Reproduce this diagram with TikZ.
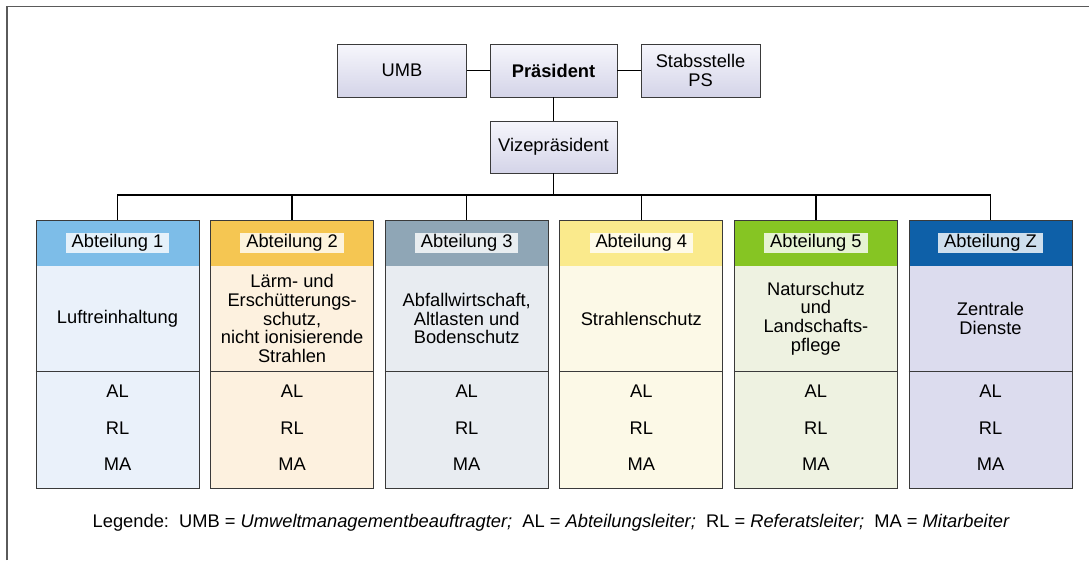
\documentclass[tikz,border=0pt]{standalone}
\usepackage{fontspec}
\setmainfont{Liberation Sans}
\definecolor{frameC}{HTML}{5A5A5A}
\definecolor{boxline}{HTML}{3A3A3A}
\definecolor{topA}{HTML}{F6F6FC}
\definecolor{topB}{HTML}{D4D4E8}
\definecolor{hA}{HTML}{7DBDE8}\definecolor{bA}{HTML}{EAF1FA}
\definecolor{hB}{HTML}{F5C652}\definecolor{bB}{HTML}{FDF1DF}
\definecolor{hC}{HTML}{8FA6B6}\definecolor{bC}{HTML}{E8ECF1}
\definecolor{hD}{HTML}{FAEA8C}\definecolor{bD}{HTML}{FCF9E7}
\definecolor{hE}{HTML}{86C523}\definecolor{bE}{HTML}{EEF2E1}
\definecolor{hF}{HTML}{0E60A8}\definecolor{bF}{HTML}{DCDCEE}
\newcommand{\mytxt}{\fontsize{18.3}{18.8}\selectfont}
\begin{document}
\begin{tikzpicture}[x=1pt,y=-1pt,
  every node/.style={font=\mytxt},
  topbox/.style={draw=boxline, line width=0.9pt, top color=topA, bottom color=topB,
    minimum height=53pt, inner sep=0pt, align=center},
  conn/.style={draw=black, line width=1.3pt},
  deptbox/.style={draw=boxline, line width=0.9pt, minimum width=163pt, minimum height=268pt, inner sep=0pt},
  lbl/.style={fill=white, fill opacity=0.8, text opacity=1, inner xsep=6pt, inner ysep=2pt,
    text height=12.8pt, text depth=3.5pt},
  bodytxt/.style={align=center, inner sep=0pt},
  role/.style={anchor=base, inner sep=0pt}
]
\useasboundingbox (0,0) rectangle (1089,560);
\fill[white] (0,0) rectangle (1089,560);
\draw[frameC, line width=1.6pt] (7,560) -- (7,6.5) -- (1089,6.5);

% top boxes
\node[topbox, minimum width=129pt] (umb) at (402,70.5) {UMB};
\node[topbox, minimum width=127pt, font=\mytxt\bfseries] (pres) at (553.5,70.5) {Präsident};
\node[topbox, minimum width=119pt] (stab) at (700.5,70.5) {Stabsstelle\\PS};
\node[topbox, minimum width=127pt, minimum height=52pt] (vize) at (553.5,147) {Vizepräsident};

\draw[conn] (umb) -- (pres);
\draw[conn] (pres) -- (stab);
\draw[conn] (pres) -- (vize);
\coordinate (bus) at (553.5,195);
\draw[conn] (vize.south) -- (bus);

% departments
\foreach \i/\hc/\bc/\lab/\body in {
  0/hA/bA/1/{Luftreinhaltung},
  1/hB/bB/2/{Lärm- und\\Erschütterungs-\\schutz,\\nicht ionisierende\\Strahlen},
  2/hC/bC/3/{Abfallwirtschaft,\\Altlasten und\\Bodenschutz},
  3/hD/bD/4/{Strahlenschutz},
  4/hE/bE/5/{Naturschutz\\und\\Landschafts-\\pflege},
  5/hF/bF/Z/{Zentrale\\Dienste}} {
  \pgfmathsetmacro{\cx}{117.5+174.6*\i}
  \node[deptbox, fill=\bc,
    path picture={\fill[\hc] (path picture bounding box.north west) rectangle ([yshift=-46pt]path picture bounding box.north east);}]
    (d\i) at (\cx,354) {};
  \draw[boxline, line width=0.9pt] (d\i.west |- 0,371) -- (d\i.east |- 0,371);
  \node[lbl] (l\i) at (\cx,243) {Abteilung \lab};
  \node[bodytxt] (t\i) at (\cx,318.5) {\body};
  \node[role] (al\i) at (\cx,397.5) {AL};
  \node[role] (rl\i) at (\cx,434) {RL};
  \node[role] (ma\i) at (\cx,470.5) {MA};
  \draw[conn] (d\i.north) |- (bus);
}

\node[anchor=base west, inner sep=0pt, font=\fontsize{18.3}{20}\selectfont] (leg) at (92.5,527)
  {Legende:\ \ UMB = \textit{Umweltmanagementbeauftragter;}\ \ AL = \textit{Abteilungsleiter;}\ \ RL = \textit{Referatsleiter;}\ \ MA = \textit{Mitarbeiter}};
\end{tikzpicture}
\end{document}
